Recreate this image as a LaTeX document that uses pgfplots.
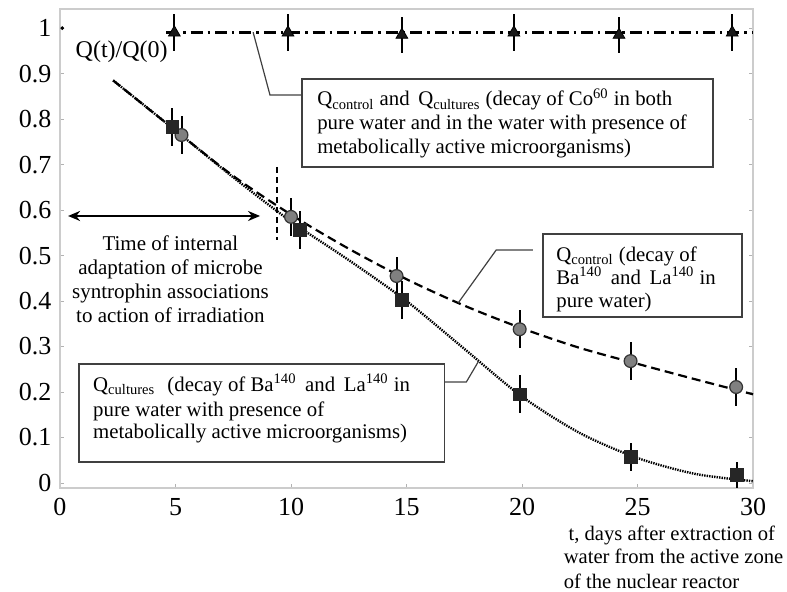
\documentclass[border=0pt]{standalone}
\usepackage{fontspec}
\setmainfont{Liberation Serif}
\usepackage{pgfplots}
\pgfplotsset{compat=1.18}
\usetikzlibrary{arrows.meta}

\definecolor{leader}{HTML}{404040}
\definecolor{circfill}{HTML}{808080}

\begin{document}
\begin{tikzpicture}
\useasboundingbox (-30pt,-51.5pt) rectangle (363.5pt,244pt);
\begin{axis}[
  scale only axis,
  width=346.5pt, height=239.5pt,
  xmin=0, xmax=30,
  ymin=-0.011, ymax=1.042,
  xtick={0,5,10,15,20,25,30},
  ytick={0,0.1,0.2,0.3,0.4,0.5,0.6,0.7,0.8,0.9,1},
  yticklabels={0,0.1,0.2,0.3,0.4,0.5,0.6,0.7,0.8,0.9,1},
  xtick pos=bottom, ytick pos=both,
  tick align=inside,
  major tick length=2pt,
  tick style={gray!60, line width=0.5pt},
  axis line style={gray!40, line width=0.8pt},
  ticklabel style={font=\fontsize{13}{13}\selectfont},
  xticklabel style={yshift=-1.5pt},
  yticklabel style={xshift=-0.8pt},
  /pgf/number format/assume math mode=true,
  clip=false,
]
% fitted curves
\addplot[black, line width=1.1pt, dash pattern=on 4.5pt off 2.5pt, smooth] coordinates {
 (2.3,0.885) (5,0.775) (7.5,0.675) (10,0.59) (12.5,0.515) (15,0.448)
 (17.5,0.39) (20,0.34) (22.5,0.297) (25,0.262) (27.5,0.228) (30,0.195)
};
\addplot[black, line width=1.2pt, dash pattern=on 0.7pt off 0.55pt, smooth] coordinates {
 (2.3,0.885) (5,0.775) (7.5,0.672) (10,0.575) (12.5,0.49) (15,0.4)
 (17.5,0.295) (20,0.19) (22.5,0.11) (25,0.055) (27.5,0.02) (30,0.004)
};
\addplot[black, line width=1.3pt, dash pattern=on 6pt off 2.5pt on 1.2pt off 2.5pt] coordinates {
 (4.6,0.99) (30,0.99)
};
% small point at origin of top line
\addplot[only marks, mark=*, mark size=0.7pt, black] coordinates {(0.1,1.0)};

% Co60 (triangles)
\addplot[only marks, mark=triangle*, mark size=3.4pt, black,
  mark options={fill=black!90},
  error bars/.cd, y dir=both, y explicit,
  error bar style={line width=1pt, black}, error mark=none] coordinates {
 (4.95,0.99) +- (0,0.04) (9.87,0.99) +- (0,0.04) (14.8,0.985) +- (0,0.04)
 (19.65,0.99) +- (0,0.04) (24.2,0.985) +- (0,0.04) (29.1,0.99) +- (0,0.04)
};
% Q control (circles)
\addplot[only marks, mark=*, mark size=3.2pt, mark options={fill=circfill, draw=black!80, line width=0.6pt},
  error bars/.cd, y dir=both, y explicit,
  error bar style={line width=1pt, black}, error mark=none] coordinates {
 (5.26,0.765) +- (0,0.042) (10.0,0.585) +- (0,0.042) (14.57,0.455) +- (0,0.042)
 (19.9,0.338) +- (0,0.042) (24.7,0.268) +- (0,0.042) (29.27,0.211) +- (0,0.042)
};
% Q cultures (squares)
\addplot[only marks, mark=square*, mark size=3.2pt, mark options={fill=black!85, draw=black!85},
  error bars/.cd, y dir=both, y explicit,
  error bar style={line width=1pt, black}, error mark=none] coordinates {
 (4.87,0.782) +- (0,0.042) (10.39,0.556) +- (0,0.042) (14.8,0.402) +- (0,0.042)
 (19.9,0.195) +- (0,0.042) (24.7,0.057) +- (0,0.03) (29.3,0.018) +- (0,0.028)
};

% adaptation marker
\draw[black, line width=1pt, dash pattern=on 3pt off 2pt] (axis cs:9.4,0.695) -- (axis cs:9.4,0.534);
\draw[black, line width=1pt, {Stealth[length=6pt,width=5pt]}-{Stealth[length=6pt,width=5pt]}]
  (axis cs:0.35,0.587) -- (axis cs:8.66,0.587);
\node[align=center, font=\fontsize{10.5}{12}\selectfont] at (axis cs:4.78,0.449)
  {Time of internal\\adaptation of microbe\\syntrophin associations\\to action of irradiation};

\node[font=\fontsize{12}{12}\selectfont] at (axis cs:2.67,0.947) {Q(t)/Q(0)};

% box 1 (Co60)
\draw[leader, line width=0.6pt] (axis cs:8.36,0.991) -- (axis cs:9.09,0.853) -- (axis cs:10.47,0.853);
\draw[black!75, line width=0.8pt] (axis cs:10.47,0.6945) rectangle (axis cs:28.28,0.888);
\begin{scope}[every node/.style={anchor=base west, inner sep=0pt, font=\fontsize{10.4}{12}\selectfont}]
\node at (axis cs:11.12,0.829) {Q\textsubscript{control} and\, Q\textsubscript{cultures} (decay of Co\textsuperscript{60} in both};
\node at (axis cs:11.12,0.778) {pure water and in the water with presence of};
\node at (axis cs:11.12,0.725) {metabolically active microorganisms)};
\end{scope}

% box 2 (control)
\draw[leader, line width=0.6pt] (axis cs:20.47,0.512) -- (axis cs:18.88,0.512) -- (axis cs:17.24,0.396);
\draw[black!75, line width=0.8pt] (axis cs:20.91,0.365) rectangle (axis cs:29.53,0.547);
\begin{scope}[every node/.style={anchor=base west, inner sep=0pt, font=\fontsize{10.4}{12}\selectfont}]
\node at (axis cs:21.47,0.488) {Q\textsubscript{control} (decay of};
\node at (axis cs:21.47,0.437) {Ba\textsuperscript{140}\, and\, La\textsuperscript{140} in};
\node at (axis cs:21.47,0.385) {pure water)};
\end{scope}

% box 3 (cultures)
\draw[leader, line width=0.6pt] (axis cs:16.64,0.222) -- (axis cs:17.59,0.222) -- (axis cs:18.10,0.266);
\draw[black!75, line width=0.8pt] (axis cs:0.82,0.046) rectangle (axis cs:16.64,0.2615);
\begin{scope}[every node/.style={anchor=base west, inner sep=0pt, font=\fontsize{10.4}{12}\selectfont}]
\node at (axis cs:1.42,0.202) {Q\textsubscript{cultures}\,\, (decay of Ba\textsuperscript{140}\, and\, La\textsuperscript{140} in};
\node at (axis cs:1.42,0.147) {pure water with presence of};
\node at (axis cs:1.42,0.097) {metabolically active microorganisms)};
\end{scope}

% x label
\begin{scope}[every node/.style={anchor=base west, inner sep=0pt, font=\fontsize{10.3}{12}\selectfont}]
\node at (axis cs:22.0,-0.127) {t, days after extraction of};
\node at (axis cs:21.79,-0.176) {water from the active zone};
\node at (axis cs:21.79,-0.231) {of the nuclear reactor};
\end{scope}
\end{axis}
\end{tikzpicture}
\end{document}
